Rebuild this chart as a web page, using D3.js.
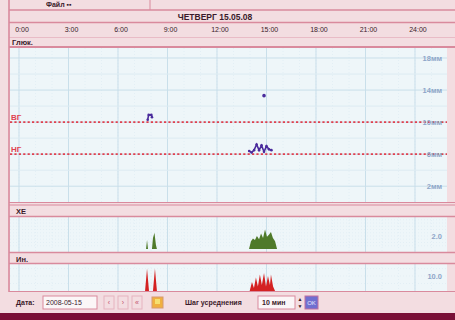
<!DOCTYPE html>
<html>
<head>
<meta charset="utf-8">
<script src="https://cdn.jsdelivr.net/npm/d3@7"></script>
<style>
  html, body { margin: 0; padding: 0; background: #f3dfe2; }
  svg { display: block; font-family: "Liberation Sans", Arial, sans-serif; }
</style>
</head>
<body>
<svg id="chart" width="455" height="320"></svg>
<script>
// Day view: glucose readings, bread units and insulin over 24 hours
const dayTitle = "ЧЕТВЕРГ  15.05.08";
const dateValue = "2008-05-15";
const hourTicks = [0, 3, 6, 9, 12, 15, 18, 21, 24];
const hourLabels = ["0:00", "3:00", "6:00", "9:00", "12:00", "15:00", "18:00", "21:00", "24:00"];
const glucoseTicks = [2, 6, 10, 14, 18];
const glucoseTickLabels = ["2мм", "6мм", "10мм", "14мм", "18мм"];
const targetHigh = 10;
const targetLow = 6;

// glucose readings: [hour, mmol/l]
const glucoseMorning = [[7.80, 10.3], [7.86, 10.9], [8.02, 10.9], [8.06, 10.6]];
const glucoseNoon = [[13.95, 6.4], [14.10, 6.2], [14.25, 6.5], [14.40, 7.2], [14.55, 6.5],
                     [14.70, 7.1], [14.85, 6.3], [15.00, 7.0], [15.15, 6.6], [15.30, 6.5]];
const glucoseSingle = [[14.85, 13.3]];

// bread units: [hour, value], one array per meal
const breadBreakfast = [[7.70, 0], [7.76, 1.4], [7.82, 0], [8.06, 0], [8.12, 1.7], [8.21, 2.5], [8.30, 0.6], [8.36, 0]];
const breadLunch = [[13.94, 0], [14.06, 1.2], [14.18, 1.6], [14.30, 1.4], [14.42, 2.0], [14.55, 1.5], [14.67, 2.4],
                    [14.79, 1.7], [14.91, 3.0], [15.03, 1.9], [15.15, 2.2], [15.27, 2.6], [15.39, 1.7], [15.52, 1.2], [15.64, 0]];
const breadTick = [2];

// insulin: [hour, units], one array per injection group
const insulinMorning = [[7.64, 0], [7.76, 15], [7.88, 0], [8.12, 0], [8.24, 15], [8.36, 0]];
const insulinNoon = [[13.98, 0], [14.12, 6], [14.24, 2], [14.36, 9], [14.48, 3], [14.60, 11], [14.72, 4],
                     [14.85, 12], [14.97, 3], [15.09, 10], [15.21, 4], [15.27, 11], [15.40, 3], [15.52, 0]];
const insulinTick = [10];

const C = {
  frame: "#f3dde1", line: "#d98a9d", lineSoft: "#e6b3bf", plot: "#eef6f9",
  gridMajor: "#c9dfea", gridMinor: "#dcebf2", target: "#e0404f",
  glucose: "#4a2b9c", bread: "#4f7a2a", ins: "#d42222", text: "#3a1a2a",
  axisText: "#8ea6c8", bottom: "#7a1038"
};

const svg = d3.select("#chart");
const W = 455, H = 320;
const plotL = 10, plotR = 447;

svg.append("rect").attr("width", W).attr("height", H).attr("fill", C.frame);

// shared time scale
const x = d3.scaleLinear().domain([-0.545, 25.94]).range([plotL, plotR]);

// panel vertical extents
const main = { top: 48, bottom: 202 };
const bu = { top: 217, bottom: 252 };
const inj = { top: 264, bottom: 291 };

const yG = d3.scaleLinear().domain([0.03, 19.25]).range([main.bottom, main.top]);
const yB = d3.scaleLinear().domain([0, 5]).range([249, 216.5]);
const yI = d3.scaleLinear().domain([0, 18.7]).range([291, 263]);

function panel(p) {
  svg.append("rect").attr("x", plotL).attr("y", p.top).attr("width", plotR - plotL)
    .attr("height", p.bottom - p.top).attr("fill", C.plot);
}
[main, bu, inj].forEach(panel);

// vertical grid: hours (minor) and 3-hour marks (major)
function vgrid(p) {
  const g = svg.append("g");
  g.selectAll("line.minor").data(d3.range(0, 26)).join("line")
    .attr("x1", d => x(d)).attr("x2", d => x(d)).attr("y1", p.top).attr("y2", p.bottom)
    .attr("stroke", C.gridMinor).attr("stroke-width", 0.6).attr("stroke-dasharray", "1,2");
  g.selectAll("line.major").data(hourTicks).join("line")
    .attr("x1", d => x(d)).attr("x2", d => x(d)).attr("y1", p.top).attr("y2", p.bottom)
    .attr("stroke", C.gridMajor).attr("stroke-width", 1);
}
[main, bu, inj].forEach(vgrid);

// horizontal glucose grid every 2 mmol/l
svg.append("g").selectAll("line").data(d3.range(2, 20, 2)).join("line")
  .attr("x1", plotL).attr("x2", plotR).attr("y1", d => yG(d)).attr("y2", d => yG(d))
  .attr("stroke", d => d % 4 === 2 ? C.gridMajor : C.gridMinor).attr("stroke-width", 1);
svg.append("g").selectAll("line").data(d3.range(0.5, 5, 0.5)).join("line")
  .attr("x1", plotL).attr("x2", plotR).attr("y1", d => yB(d)).attr("y2", d => yB(d))
  .attr("stroke", C.gridMinor).attr("stroke-width", 0.6).attr("stroke-dasharray", "1,2");
svg.append("g").selectAll("line").data([5, 10, 15]).join("line")
  .attr("x1", plotL).attr("x2", plotR).attr("y1", d => yI(d)).attr("y2", d => yI(d))
  .attr("stroke", C.gridMinor).attr("stroke-width", 0.6).attr("stroke-dasharray", "1,2");

// target range
[targetHigh, targetLow].forEach(v => {
  svg.append("line").attr("x1", plotL).attr("x2", plotR).attr("y1", yG(v)).attr("y2", yG(v))
    .attr("stroke", C.target).attr("stroke-width", 1.8).attr("stroke-dasharray", "2.2,2.2");
});
svg.append("text").attr("x", 11).attr("y", yG(targetHigh) - 2).attr("fill", C.target)
  .attr("font-size", 8).attr("font-weight", "bold").text("ВГ");
svg.append("text").attr("x", 11).attr("y", yG(targetLow) - 2).attr("fill", C.target)
  .attr("font-size", 8).attr("font-weight", "bold").text("НГ");

// right-hand value axes
const axG = svg.append("g").attr("transform", `translate(${plotR - 2},0)`)
  .call(d3.axisLeft(yG).tickValues(glucoseTicks).tickSize(0).tickFormat((d, i) => glucoseTickLabels[i]));
const axB = svg.append("g").attr("transform", `translate(${plotR - 2},0)`)
  .call(d3.axisLeft(yB).tickValues(breadTick).tickSize(0).tickFormat(d3.format(".1f")));
const axI = svg.append("g").attr("transform", `translate(${plotR - 2},0)`)
  .call(d3.axisLeft(yI).tickValues(insulinTick).tickSize(0).tickFormat(d3.format(".1f")));
[axG, axB, axI].forEach(a => {
  a.select(".domain").remove();
  a.selectAll("text").attr("fill", C.axisText).attr("font-size", 7.5).attr("font-weight", "bold")
    .attr("font-family", "'Liberation Sans', Arial, sans-serif");
});

// glucose readings
const lineG = d3.line().x(d => x(d[0])).y(d => yG(d[1]));
[glucoseMorning, glucoseNoon].forEach(s => {
  svg.append("path").attr("d", lineG(s)).attr("fill", "none").attr("stroke", C.glucose).attr("stroke-width", 1.6);
  svg.append("g").selectAll("circle").data(s).join("circle")
    .attr("cx", d => x(d[0])).attr("cy", d => yG(d[1])).attr("r", 1.3).attr("fill", C.glucose);
});
svg.append("g").selectAll("circle").data(glucoseSingle).join("circle")
  .attr("cx", d => x(d[0])).attr("cy", d => yG(d[1])).attr("r", 1.8).attr("fill", C.glucose);

// bread units and insulin as filled peaks
const areaB = d3.area().x(d => x(d[0])).y0(yB(0)).y1(d => yB(d[1]));
[breadBreakfast, breadLunch].forEach(s =>
  svg.append("path").attr("d", areaB(s)).attr("fill", C.bread));
const areaI = d3.area().x(d => x(d[0])).y0(yI(0)).y1(d => yI(d[1]));
[insulinMorning, insulinNoon].forEach(s =>
  svg.append("path").attr("d", areaI(s)).attr("fill", C.ins));

// frame lines
function hline(y, w, col) {
  svg.append("line").attr("x1", 9).attr("x2", W).attr("y1", y).attr("y2", y)
    .attr("stroke", col || C.line).attr("stroke-width", w);
}
hline(10, 1.6); hline(22.5, 1.6); hline(37.5, 0.8, C.lineSoft); hline(47, 1.8);
hline(202.5, 1.2); hline(205, 1); hline(216.5, 1.6);
hline(252.5, 1.4); hline(263.5, 1.6); hline(291.5, 1);
svg.append("line").attr("x1", 9).attr("x2", 9).attr("y1", 0).attr("y2", 292)
  .attr("stroke", C.line).attr("stroke-width", 1.6);
svg.append("line").attr("x1", 150).attr("x2", 150).attr("y1", 0).attr("y2", 10)
  .attr("stroke", C.line).attr("stroke-width", 1);

// top menu and title
svg.append("text").attr("x", 46).attr("y", 7).attr("font-size", 7).attr("font-weight", "bold")
  .attr("fill", C.text).text("Файл ▪▪");
svg.append("text").attr("x", 215).attr("y", 20).attr("text-anchor", "middle").attr("font-size", 8.5)
  .attr("font-weight", "bold").attr("fill", C.text).text(dayTitle);

// hour labels
svg.append("g").selectAll("text").data(hourTicks).join("text")
  .attr("x", d => x(d) + 3).attr("y", 32).attr("text-anchor", "middle").attr("font-size", 7)
  .attr("fill", C.text).text((d, i) => hourLabels[i]);

// panel captions
const cap = (xx, yy, t) => svg.append("text").attr("x", xx).attr("y", yy).attr("font-size", 7.5)
  .attr("font-weight", "bold").attr("fill", C.text).text(t);
cap(12, 45, "Глюк.");
cap(16, 214, "ХЕ");
cap(16, 262, "Ин.");

// bottom controls
const ctl = svg.append("g").attr("font-size", 7).attr("fill", C.text);
ctl.append("text").attr("x", 16).attr("y", 305).attr("font-weight", "bold").text("Дата:");
ctl.append("rect").attr("x", 43).attr("y", 296).attr("width", 54).attr("height", 13)
  .attr("fill", "#fbf6f7").attr("stroke", C.line);
ctl.append("text").attr("x", 46).attr("y", 305).text(dateValue);
[["‹", 104], ["›", 118], ["«", 132]].forEach(([t, bx]) => {
  ctl.append("rect").attr("x", bx).attr("y", 296).attr("width", 10).attr("height", 13)
    .attr("fill", C.frame).attr("stroke", C.lineSoft);
  ctl.append("text").attr("x", bx + 5).attr("y", 305).attr("text-anchor", "middle").attr("fill", "#c2506a").text(t);
});
ctl.append("rect").attr("x", 152).attr("y", 297).attr("width", 11).attr("height", 11)
  .attr("fill", "#f0b040").attr("stroke", "#d69a70");
ctl.append("rect").attr("x", 155).attr("y", 299).attr("width", 5).attr("height", 5).attr("fill", "#f6e070");
ctl.append("text").attr("x", 185).attr("y", 305).attr("font-weight", "bold").text("Шаг усреднения");
ctl.append("rect").attr("x", 258).attr("y", 296).attr("width", 37).attr("height", 13)
  .attr("fill", "#fbf6f7").attr("stroke", C.line);
ctl.append("text").attr("x", 262).attr("y", 305).attr("font-weight", "bold").text("10 мин");
ctl.append("text").attr("x", 300).attr("y", 301).attr("text-anchor", "middle").attr("font-size", 5).text("▲");
ctl.append("text").attr("x", 300).attr("y", 308).attr("text-anchor", "middle").attr("font-size", 5).text("▼");
ctl.append("rect").attr("x", 305).attr("y", 296).attr("width", 13).attr("height", 13)
  .attr("fill", "#6f6fd0").attr("stroke", "#c070a0");
ctl.append("text").attr("x", 311.5).attr("y", 305).attr("text-anchor", "middle").attr("font-size", 6)
  .attr("fill", "#e8e8ff").text("OK");

svg.append("rect").attr("x", 0).attr("y", 313).attr("width", W).attr("height", 7).attr("fill", C.bottom);
</script>
</body>
</html>
